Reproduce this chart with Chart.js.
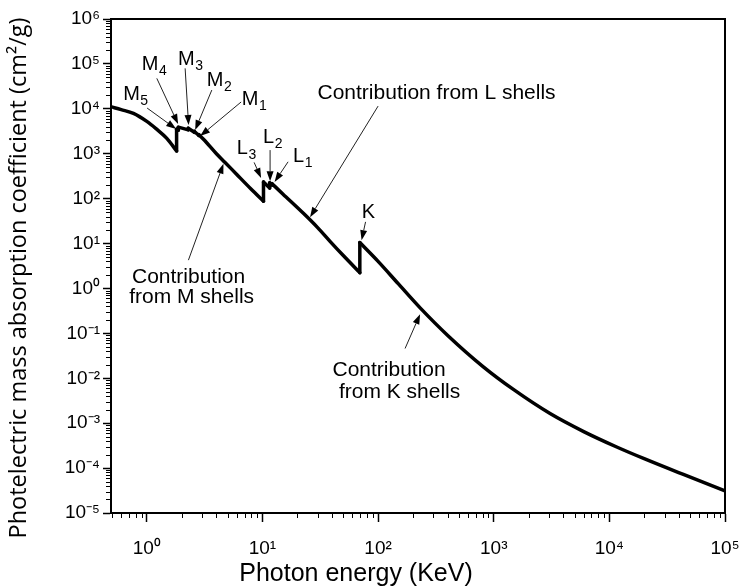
<!DOCTYPE html>
<html><head><meta charset="utf-8">
<script src="https://cdn.jsdelivr.net/npm/chart.js@4.4.1/dist/chart.umd.min.js"></script>
<style>html,body{margin:0;padding:0;background:#fff;} #wrap{width:741px;height:587px;}</style>
</head><body><div id="wrap"><canvas id="c" width="741" height="587"></canvas></div>
<script>
// Photon energy (keV) and photoelectric mass absorption coefficient (cm2/g)
const energy = [0.49, 0.6, 0.766, 1.0, 1.2, 1.489, 1.809, 1.809, 1.872, 1.872, 2.281, 2.281, 2.575, 2.575, 2.82, 2.82,
  3.09, 4.0, 4.75, 6.0, 8.0, 10.207, 10.207, 11.544, 11.544, 12.1, 12.1, 15, 22.6, 30, 38.4, 50, 69.5, 69.5,
  100, 150, 231, 400, 813, 1500, 3070, 6000, 11580, 20000, 43650, 100000];
const muPE = [11100, 9600, 7920, 5250, 3620, 2200, 1150, 3500, 3350, 3900, 3400, 3700, 3000, 3150, 2550, 2650,
  2100, 1000, 640, 345, 162, 88, 235, 172, 225, 200, 215, 127, 47, 22.6, 11.2, 5.4, 2.25, 10.5,
  4.0, 1.26, 0.37, 0.09, 0.018, 0.0055, 0.00164, 0.00065, 0.000295, 0.000162, 0.000072, 0.000031];

const xTickValues = [1, 10, 100, 1000, 10000, 100000];
const yTickValues = [1e-5, 1e-4, 1e-3, 1e-2, 1e-1, 1, 10, 100, 1000, 1e4, 1e5, 1e6];

// Absorption-edge labels (letter, subscript) and arrows, in data coordinates (keV, cm2/g)
const edgeNames = ['M', 'M', 'M', 'M', 'M', 'L', 'L', 'L', 'K'];
const edgeSubs  = ['5', '4', '3', '2', '1', '3', '2', '1', ''];
const edgeTextAt = [[0.624, 1.57e4], [0.905, 7.31e4], [1.865, 9.44e4], [3.303, 3.22e4], [6.63, 1.21e4],
  [6.00, 982], [10.13, 1727], [18.41, 651], [72.3, 36.8]];
const edgeArrowFrom = [[1.006, 1.04e4], [1.220, 4.77e4], [2.144, 7.97e4], [3.648, 2.62e4], [6.54, 1.42e4],
  [8.47, 641], [11.64, 1205], [16.66, 661], [77.9, 30.4]];
const edgeArrowTo = [[1.792, 3540], [1.865, 4570], [2.298, 4350], [2.616, 3365], [2.89, 2470],
  [9.73, 287], [11.64, 245], [12.73, 235], [72.0, 11.9]];

// Shell-contribution notes
const noteLines = [['Contribution from L shells'], ['Contribution', 'from M shells'], ['Contribution', 'from K shells']];
const noteAt = [[[320.3, 2.24e4]], [[2.298, 1.78], [2.440, 0.639]], [[124.5, 0.0151], [153.4, 4.89e-3]]];
const noteArrowFrom = [[100, 1.15e4], [2.289, 4.27], [171.1, 0.046]];
const noteArrowTo = [[25.8, 38.7], [4.6, 600], [230.7, 0.267]];

const xTitle = 'Photon energy (KeV)';
const yTitle = 'Photelectric mass absorption coefficient (cm\u00B2/g)';

const SUP = {'0':'\u2070','1':'\u00B9','2':'\u00B2','3':'\u00B3','4':'\u2074','5':'\u2075','6':'\u2076','7':'\u2077','8':'\u2078','9':'\u2079','-':'\u207B'};
function pow10Label(v) {
  const e = String(Math.round(Math.log10(v)));
  return '10' + e.split('').map(c => SUP[c]).join('');
}

const FONT = '"Liberation Sans", Arial, sans-serif';

// split the curve at absorption edges (repeated energies) into smooth pieces and vertical jumps
const pieces = [];
const jumps = [];
let cur = [];
energy.forEach((e, i) => {
  if (i > 0 && e === energy[i - 1]) {
    pieces.push(cur); cur = [];
    jumps.push([{x: e, y: muPE[i - 1]}, {x: e, y: muPE[i]}]);
  }
  cur.push({x: e, y: muPE[i]});
});
pieces.push(cur);

const lineStyle = {borderColor: '#000', borderWidth: 3.5, pointRadius: 0, fill: false,
  borderCapStyle: 'round', borderJoinStyle: 'round'};
const datasets = pieces.map(p => Object.assign({data: p, cubicInterpolationMode: 'monotone', tension: 0.4}, lineStyle))
  .concat(jumps.map(j => Object.assign({data: j, tension: 0}, lineStyle)));

const decor = {
  id: 'decor',
  afterDraw(chart) {
    const {ctx, chartArea: a, scales: {x, y}} = chart;
    ctx.save();
    ctx.strokeStyle = '#000';
    ctx.lineWidth = 2;
    ctx.beginPath();
    ctx.moveTo(a.left, a.top); ctx.lineTo(a.right, a.top); ctx.lineTo(a.right, a.bottom);
    ctx.stroke();
    ctx.lineWidth = 1;
    ctx.beginPath();
    for (let n = -5; n < 6; n++) for (let k = 2; k < 10; k++) {
      const py = Math.round(y.getPixelForValue(k * Math.pow(10, n))) + 0.5;
      ctx.moveTo(a.left - 5, py); ctx.lineTo(a.left, py);
    }
    for (let n = -1; n < 5; n++) for (let k = 2; k < 10; k++) {
      const v = k * Math.pow(10, n);
      if (v < x.min || v > x.max) continue;
      const px = Math.round(x.getPixelForValue(v)) + 0.5;
      ctx.moveTo(px, a.bottom); ctx.lineTo(px, a.bottom + 5);
    }
    ctx.stroke();

    const P = (p) => [x.getPixelForValue(p[0]), y.getPixelForValue(p[1])];
    function arrow(from, to) {
      const [x0, y0] = P(from), [x1, y1] = P(to);
      const dx = x1 - x0, dy = y1 - y0, L = Math.hypot(dx, dy);
      const ux = dx / L, uy = dy / L, hl = 10, hw = 3.5;
      const bx = x1 - ux * hl, by = y1 - uy * hl;
      ctx.strokeStyle = '#222'; ctx.lineWidth = 1;
      ctx.beginPath(); ctx.moveTo(x0, y0); ctx.lineTo(bx, by); ctx.stroke();
      ctx.fillStyle = '#000';
      ctx.beginPath();
      ctx.moveTo(x1, y1);
      ctx.lineTo(bx - uy * hw, by + ux * hw);
      ctx.lineTo(bx + uy * hw, by - ux * hw);
      ctx.closePath(); ctx.fill();
    }
    ctx.fillStyle = '#000';
    ctx.textBaseline = 'alphabetic';
    ctx.textAlign = 'left';
    edgeNames.forEach((nm, i) => {
      const [tx, ty] = P(edgeTextAt[i]);
      ctx.font = '20px ' + FONT;
      ctx.fillText(nm, tx, ty);
      const w = ctx.measureText(nm).width;
      if (edgeSubs[i]) { ctx.font = '14px ' + FONT; ctx.fillText(edgeSubs[i], tx + w + 0.5, ty + 5); }
      arrow(edgeArrowFrom[i], edgeArrowTo[i]);
    });
    ctx.font = '21px ' + FONT;
    ctx.textAlign = 'center';
    ctx.textBaseline = 'middle';
    noteLines.forEach((lines, i) => {
      lines.forEach((t, j) => { const [tx, ty] = P(noteAt[i][j]); ctx.fillStyle = '#000'; ctx.fillText(t, tx, ty); });
      arrow(noteArrowFrom[i], noteArrowTo[i]);
    });
    ctx.fillStyle = '#000';
    ctx.font = '25px ' + FONT;
    ctx.fillText(xTitle, 356, 574);
    ctx.translate(19.5, 278);
    ctx.rotate(-Math.PI / 2);
    ctx.font = '23.5px "Open Sans", sans-serif';
    ctx.fillText(yTitle, 0, 0);
    ctx.restore();
  }
};

new Chart(document.getElementById('c'), {
  type: 'line',
  data: {datasets: datasets},
  options: {
    responsive: false,
    devicePixelRatio: 1,
    animation: false,
    layout: {padding: {left: 0, top: 19, right: 16, bottom: 0}},
    plugins: {legend: {display: false}, tooltip: {enabled: false}},
    scales: {
      x: {
        type: 'logarithmic', min: 0.49, max: 1e5,
        afterBuildTicks: (s) => { s.ticks = xTickValues.map(v => ({value: v})); },
        afterFit: (s) => { s.height = 74; s.paddingLeft = 0; s.paddingRight = 0; },
        grid: {drawOnChartArea: false, drawTicks: true, tickLength: 9, tickColor: '#000', tickWidth: 1.5},
        border: {display: true, color: '#000', width: 2},
        ticks: {color: '#000', font: {family: FONT, size: 19}, padding: 15, maxRotation: 0, autoSkip: false,
          callback: (v) => pow10Label(v)}
      },
      y: {
        type: 'logarithmic', min: 1e-5, max: 1e6,
        afterBuildTicks: (s) => { s.ticks = yTickValues.map(v => ({value: v})); },
        afterFit: (s) => { s.width = 111; s.paddingTop = 0; s.paddingBottom = 0; },
        grid: {drawOnChartArea: false, drawTicks: true, tickLength: 8, tickColor: '#000', tickWidth: 1.5},
        border: {display: true, color: '#000', width: 2},
        ticks: {color: '#000', font: {family: FONT, size: 19}, padding: 3, autoSkip: false,
          callback: (v) => pow10Label(v)}
      }
    }
  },
  plugins: [decor]
});
</script></body></html>
